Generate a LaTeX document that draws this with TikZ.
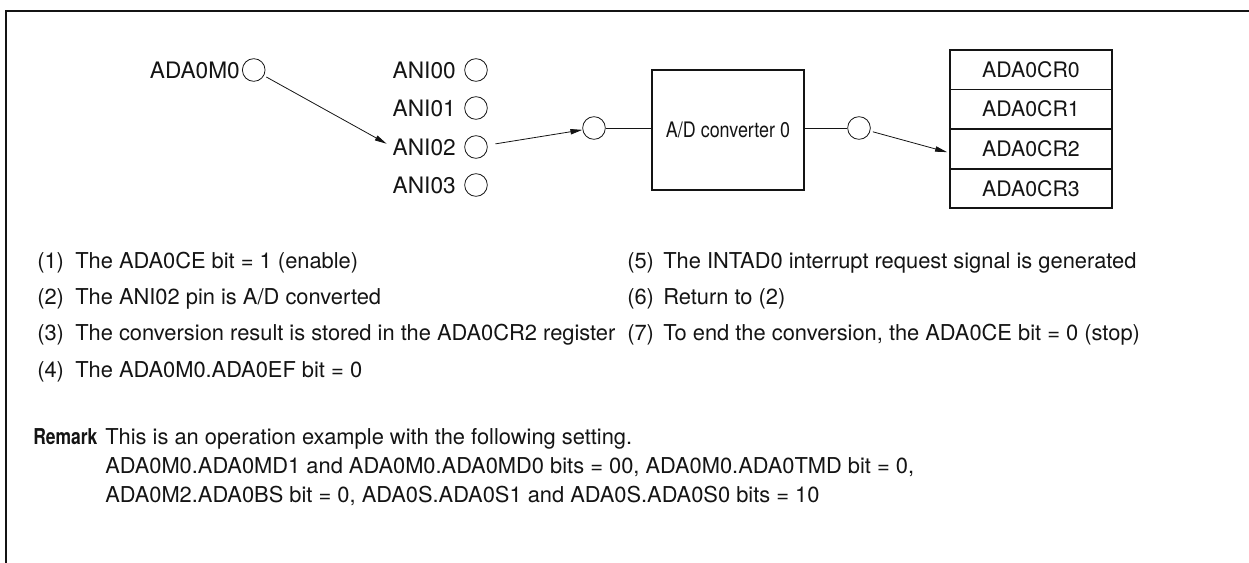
\documentclass[tikz,border=0pt]{standalone}
\usepackage{fontspec}
\setmainfont{TeX Gyre Heros}
\usepackage{xcolor}
\usepackage{tikz}
\usetikzlibrary{arrows.meta,positioning}
\definecolor{adInk}{RGB}{20,20,20}

\tikzset{
    pin/.style={circle, draw=adInk, line width=0.6pt, minimum size=17pt, inner sep=0pt},
    pinlbl/.style={inner sep=0pt, anchor=east, font=\fontsize{17}{20}\selectfont},
    item/.style={inner sep=0pt, anchor=base west, font=\fontsize{16.4}{20}\selectfont},
    arr/.style={-{Triangle[length=9pt,width=4pt]}, line width=0.6pt},
    regcell/.style={draw=adInk, line width=0.5pt, minimum width=121.5pt, minimum height=29.25pt, inner sep=0pt}
}

\begin{document}
\begin{tikzpicture}[x=0.75pt,y=-0.75pt, font=\fontsize{16}{19}\selectfont, adInk]
    \useasboundingbox (0,0) rectangle (1249,563);

    % frame
    \draw[line width=2pt] (6,563) -- (6,11) -- (1249,11);

    % pins
    \node[pinlbl] (m0lbl) at (240,70) {ADA0M0};
    \node[pin, right=1.5pt of m0lbl] (m0) {};
    \node[pinlbl] (anilbl0) at (456,70) {ANI00};
    \node[pinlbl] (anilbl1) at (456,108) {ANI01};
    \node[pinlbl] (anilbl2) at (456,147) {ANI02};
    \node[pinlbl] (anilbl3) at (456,185) {ANI03};
    \foreach \i/\y in {0/70,1/108,2/147,3/185}
        \node[pin] (ani\i) at (476,\y) {};

    % converter
    \node[pin] (cin) at (594,128) {};
    \node[draw=adInk, line width=1.5pt, minimum width=114pt, minimum height=90pt, inner sep=0pt] (conv) at (728,130)
        {\scalebox{0.84}[1]{A/D converter 0}};
    \node[pin] (cout) at (859,128) {};

    % result registers
    \node[regcell] (reg0) at (1031,69.5) {ADA0CR0};
    \node[regcell, below=0pt of reg0] (reg1) {ADA0CR1};
    \node[regcell, below=0pt of reg1] (reg2) {ADA0CR2};
    \node[regcell, below=0pt of reg2] (reg3) {ADA0CR3};
    \draw[line width=1.5pt] (reg0.north west) rectangle (reg3.south east);

    % connections
    \draw[arr, shorten <=2pt, shorten >=5pt] (m0) -- (anilbl2.west);
    \draw[arr, shorten <=6pt] (ani2) -- (cin);
    \draw[line width=0.6pt] (cin) -- (cin -| conv.west);
    \draw[line width=0.6pt] (cout -| conv.east) -- (cout);
    \draw[arr, shorten <=2pt, shorten >=2pt] (cout) -- ([yshift=-3pt]reg2.west);

    % steps
    \node[item] (n1) at (37,268.5) {(1)};
    \node[item] (s1) at (75,268.5) {The ADA0CE bit = 1 (enable)};
    \node[item] (n2) at (37,304.5) {(2)};
    \node[item] (s2) at (75,304.5) {The ANI02 pin is A/D converted};
    \node[item] (n3) at (37,340.5) {(3)};
    \node[item] (s3) at (75,340.5) {The conversion result is stored in the ADA0CR2 register};
    \node[item] (n4) at (37,377.5) {(4)};
    \node[item] (s4) at (75,377.5) {The ADA0M0.ADA0EF bit = 0};
    \node[item] (n5) at (627,268.5) {(5)};
    \node[item] (s5) at (663,268.5) {The INTAD0 interrupt request signal is generated};
    \node[item] (n6) at (627,304.5) {(6)};
    \node[item] (s6) at (663,304.5) {Return to (2)};
    \node[item] (n7) at (627,340.5) {(7)};
    \node[item] (s7) at (663,340.5) {To end the conversion, the ADA0CE bit = 0 (stop)};

    % remark
    \node[item, font=\fontsize{16.4}{20}\selectfont\bfseries] (rem) at (33,444.5) {\scalebox{0.8}[1]{Remark}};
    \node[item] (rem1) at (105,444.5) {This is an operation example with the following setting.};
    \node[item] (rem2) at (105,473.5) {ADA0M0.ADA0MD1 and ADA0M0.ADA0MD0 bits = 00, ADA0M0.ADA0TMD bit = 0,};
    \node[item] (rem3) at (105,502.5) {ADA0M2.ADA0BS bit = 0, ADA0S.ADA0S1 and ADA0S.ADA0S0 bits = 10};
\end{tikzpicture}
\end{document}
